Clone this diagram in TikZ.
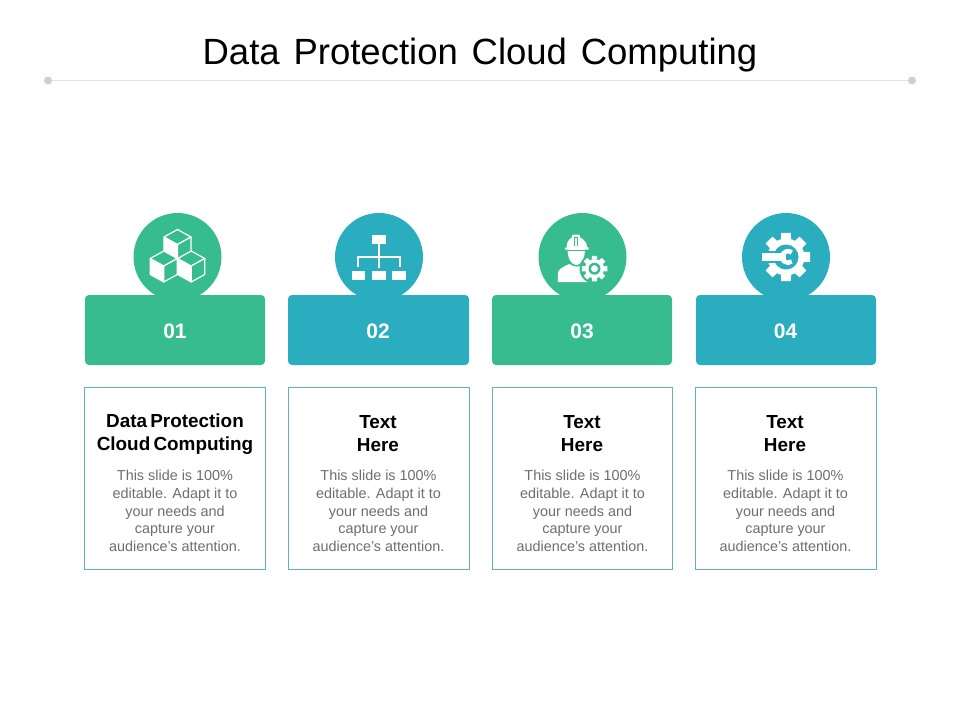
\documentclass[tikz,border=0pt]{standalone}
\usepackage{fontspec}
\setmainfont{Liberation Sans}
\definecolor{cgreen}{HTML}{37BC90}
\definecolor{cblue}{HTML}{2BADC0}
\definecolor{cline}{HTML}{5FB5B5}
\definecolor{cgrey}{HTML}{6E6E6E}
\definecolor{crule}{HTML}{E2E2E2}
\definecolor{cdot}{HTML}{CFCFCF}
\newcommand{\gearpath}[5]{% cx cy rout rin teeth
  \pgfmathsetmacro{\stp}{360/#5}
  \foreach \k in {1,...,#5}{
    \pgfmathsetmacro{\a}{\k*\stp}
    \fill[white,shift={(#1,#2)},rotate=\a] (-\stp*0.36:#4) -- (-\stp*0.25:#3) -- (\stp*0.25:#3) -- (\stp*0.36:#4) -- cycle;
  }
  \fill[white] (#1,#2) circle[radius=#4];
}
\newcommand{\apos}{\symbol{39}}
\newcommand{\titlefont}{\fontsize{36.5}{40}\selectfont\spaceskip=13.8pt\relax}
\newcommand{\cardheadfont}{\fontsize{18.9}{23}\selectfont\bfseries\spaceskip=3.2pt\relax}
\tikzset{
  banner/.style={rounded corners=4pt,draw=none,minimum height=0pt},
  disc/.style={circle,minimum size=88pt,inner sep=0pt,draw=none},
  numlabel/.style={text=white,font=\fontsize{21}{24}\selectfont\bfseries,inner sep=0pt},
  cardbox/.style={draw=cline,line width=0.8pt,fill=white},
  headtext/.style={align=center,font=\cardheadfont,text=black,inner sep=0pt},
  bodytext/.style={align=center,font=\fontsize{14.4}{17.7}\selectfont,text=cgrey,inner sep=0pt},
  iconline/.style={draw=white,line width=1.2pt,line join=round},
}
\begin{document}
\begin{tikzpicture}[x=1pt,y=-1pt]
\useasboundingbox[fill=white] (0,0) rectangle (960,720);
% title
\node[inner sep=0pt,anchor=base,font=\titlefont] (title) at (480,64.5) {Data Protection Cloud Computing};
\coordinate (ruleL) at (48,80.5);
\coordinate (ruleR) at (912,80.5);
\draw[crule,line width=1pt] (ruleL) -- (ruleR);
\fill[cdot] (ruleL) circle[radius=4];
\fill[cdot] (ruleR) circle[radius=4];
% discs
\node[disc,fill=cgreen] (d1) at (177.5,257) {};
\node[disc,fill=cblue] (d2) at (379,257) {};
\node[disc,fill=cgreen] (d3) at (582.5,257) {};
\node[disc,fill=cblue] (d4) at (786,257) {};
% banners
\fill[cgreen,banner] (85,295) rectangle (265,365);
\fill[cblue,banner] (288,295) rectangle (469,365);
\fill[cgreen,banner] (492,295) rectangle (672,365);
\fill[cblue,banner] (696,295) rectangle (876,365);
\node[numlabel] (n1) at (175,331) {01};
\node[numlabel] (n2) at (378,331) {02};
\node[numlabel] (n3) at (582,331) {03};
\node[numlabel] (n4) at (785.5,331) {04};
% cards
\draw[cardbox] (84.3,387.3) rectangle (265.7,569.5);
\draw[cardbox] (288.5,387.3) rectangle (469.3,569.5);
\draw[cardbox] (492.5,387.3) rectangle (672.8,569.5);
\draw[cardbox] (695.5,387.3) rectangle (876.7,569.5);
\node[headtext] (h1) at (175,434) {Data Protection\\Cloud Computing};
\node[headtext] (h2) at (378,434) {Text\\Here};
\node[headtext] (h3) at (582,434) {Text\\Here};
\node[headtext] (h4) at (785,434) {Text\\Here};
\node[bodytext] (b1) at (175,511) {This slide is 100\%\\editable. Adapt it to\\your needs and\\capture your\\audience\apos s attention.};
\node[bodytext] (b2) at (378.5,511) {This slide is 100\%\\editable. Adapt it to\\your needs and\\capture your\\audience\apos s attention.};
\node[bodytext] (b3) at (582.5,511) {This slide is 100\%\\editable. Adapt it to\\your needs and\\capture your\\audience\apos s attention.};
\node[bodytext] (b4) at (785.5,511) {This slide is 100\%\\editable. Adapt it to\\your needs and\\capture your\\audience\apos s attention.};
% icon 1 cubes
\begin{scope}[shift={(177.5,257)}]
  \foreach \dx/\dy in {0/-14,-13.7/7.5,13.7/7.5}{
    \begin{scope}[shift={(\dx,\dy)}]
      \fill[white] (-13.5,-6) -- (0,1.5) -- (0,17.5) -- (-13.5,10) -- cycle;
      \draw[iconline,fill=cgreen] (0,-13.5) -- (-13.5,-6) -- (0,1.5) -- (13.5,-6) -- cycle;
      \draw[iconline,fill=cgreen] (13.5,-6) -- (13.5,10) -- (0,17.5) -- (0,1.5) -- cycle;
      \draw[iconline] (-13.5,-6) -- (-13.5,10) -- (0,17.5);
    \end{scope}
  }
\end{scope}
% icon 2 hierarchy
\begin{scope}[shift={(379,257)}]
  \fill[white] (-7,-22.3) rectangle (6.7,-13.3);
  \fill[white] (-27.3,14.3) rectangle (-13.7,23.3);
  \fill[white] (-7,14.3) rectangle (6.7,23.3);
  \fill[white] (13,14.3) rectangle (26.7,23.3);
  \draw[white,line width=1.5pt] (0,-13.3) -- (0,11);
  \draw[white,line width=1.5pt] (-21,10) -- (-21,0) -- (21,0) -- (21,10);
\end{scope}
% icon 3 worker
\begin{scope}[shift={(582.5,257)}]
  % body
  \fill[white] (-24.7,25) -- (-24.7,17) .. controls (-24.7,12) and (-19,9.5) .. (-13,7) .. controls (-9,10.5) and (-2,10.5) .. (2,7) -- (8,8) -- (8,25) -- cycle;
  % face
  \fill[white] (-15,-9) .. controls (-15,3) and (-10.5,8) .. (-6,8) .. controls (-1.5,8) and (2.5,3) .. (2.5,-9) -- cycle;
  % hat
  \fill[white] (-16,-9) .. controls (-16,-14) and (-14,-18) .. (-10.5,-19.5) -- (-2.5,-19.5) .. controls (1.5,-18) and (4.5,-14) .. (4.5,-10) -- (6,-9.5) -- (6,-7.5) -- (-17.5,-7.5) -- (-17.5,-9.5) -- cycle;
  \fill[cgreen] (-17.5,-7.5) rectangle (6,-6.7);
  \fill[white,rounded corners=1.5pt] (-10.7,-22.5) rectangle (-2.3,-12);
  \draw[cgreen,line width=0.9pt] (-8.4,-11.5) -- (-8.4,-20) -- (-4.6,-20) -- (-4.6,-11.5);
  % gear
  \fill[cgreen] (12,11.7) circle[radius=15];
  \gearpath{12}{11.7}{13}{9.6}{8}
  \fill[cgreen] (12,11.7) circle[radius=6];
  \fill[white] (12,11.7) circle[radius=3.5];
\end{scope}
% icon 4 gear and spanner
\begin{scope}[shift={(786,257)}]
  \gearpath{0}{0}{24.5}{18.5}{8}
  \fill[cblue] (0,0) circle[radius=12.5];
  \fill[cblue] (-26,-6.2) rectangle (-5,6.2);
  \fill[white] (-24,-3.7) rectangle (0,3.7);
  \draw[white,line width=4.5pt] (5.73,-4.44) arc[start angle=-50,end angle=-310,radius=5.8];
\end{scope}
\end{tikzpicture}
\end{document}
